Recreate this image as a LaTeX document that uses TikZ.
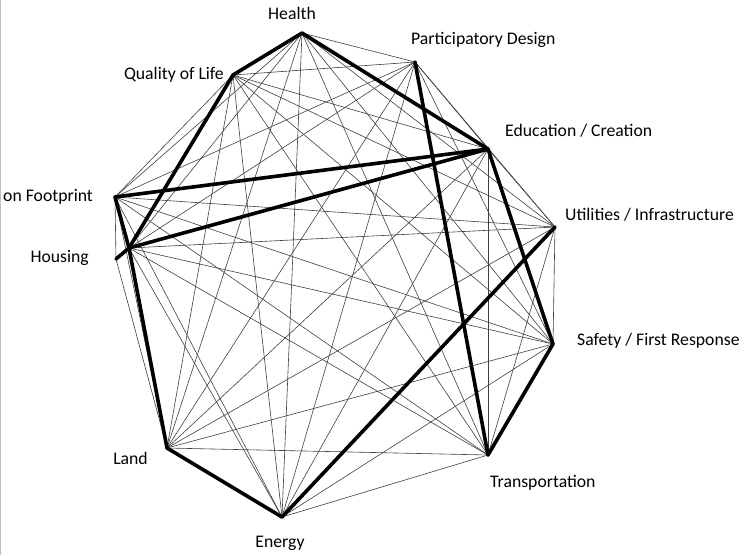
\documentclass[tikz,border=0pt]{standalone}
\usepackage{fontspec}
\setmainfont{Carlito}
\begin{document}
\begin{tikzpicture}[x=1pt,y=-1pt,
  thin edge/.style={draw=black!75,line width=0.6pt},
  thick edge/.style={draw=black,line width=3.6pt,line cap=round,line join=round},
  lbl/.style={font=\fontsize{17.7}{19}\selectfont,inner sep=0pt}]
\useasboundingbox (0,0) rectangle (747,555);
\fill[white] (0,0) rectangle (747,555);
\draw[black!25,line width=0.8pt] (0.5,0) -- (0.5,555);
% vertices
\coordinate (H) at (302,33);
\coordinate (P) at (415,62);
\coordinate (E) at (488,149);
\coordinate (U) at (555,227);
\coordinate (S) at (553,344);
\coordinate (T) at (488,455);
\coordinate (En) at (282,517);
\coordinate (L) at (167,448);
\coordinate (Ho) at (129,248);
\coordinate (Hs) at (116,259);
\coordinate (C) at (115,197);
\coordinate (Q) at (233,75);
% thin edges: complete graph
\foreach \a/\b in {H/P,H/E,H/U,H/S,H/T,H/En,H/L,H/Ho,H/C,
  Q/P,Q/E,Q/U,Q/S,Q/T,Q/En,Q/L,Q/C,
  P/E,P/U,P/S,P/En,P/L,P/Ho,P/C,
  E/U,E/T,E/En,E/L,
  U/S,U/T,U/L,U/Ho,U/C,
  S/En,S/L,S/Ho,S/C,
  T/En,T/L,T/Ho,T/C,
  En/Ho,En/C,
  L/C,C/Hs,Hs/L}
  \draw[thin edge] (\a) -- (\b);
% thick edges
\foreach \a/\b in {H/Q,Q/Ho,H/E,E/C,E/Ho,C/Ho,Ho/Hs,Ho/L,L/En,En/U,P/T,E/S,S/T}
  \draw[thick edge] (\a) -- (\b);
% labels
\node[lbl] (lH) at (292,13) {Health};
\node[lbl,anchor=west] (lP) at (411,40) {Participatory Design};
\node[lbl,anchor=east] (lQ) at (224,75) {Quality of Life};
\node[lbl,anchor=west] (lE) at (505,131) {Education / Creation};
\node[lbl,anchor=west] (lU) at (565,215) {Utilities / Infrastructure};
\node[lbl,anchor=west] (lS) at (577,341) {Safety / First Response};
\node[lbl,anchor=west] (lT) at (490,483) {Transportation};
\node[lbl] (lEn) at (280,543) {Energy};
\node[lbl,anchor=east] (lL) at (148,458) {Land};
\node[lbl,anchor=east] (lHo) at (89,258) {Housing};
\node[lbl,anchor=west] (lC) at (3,197) {on Footprint};
\end{tikzpicture}
\end{document}
